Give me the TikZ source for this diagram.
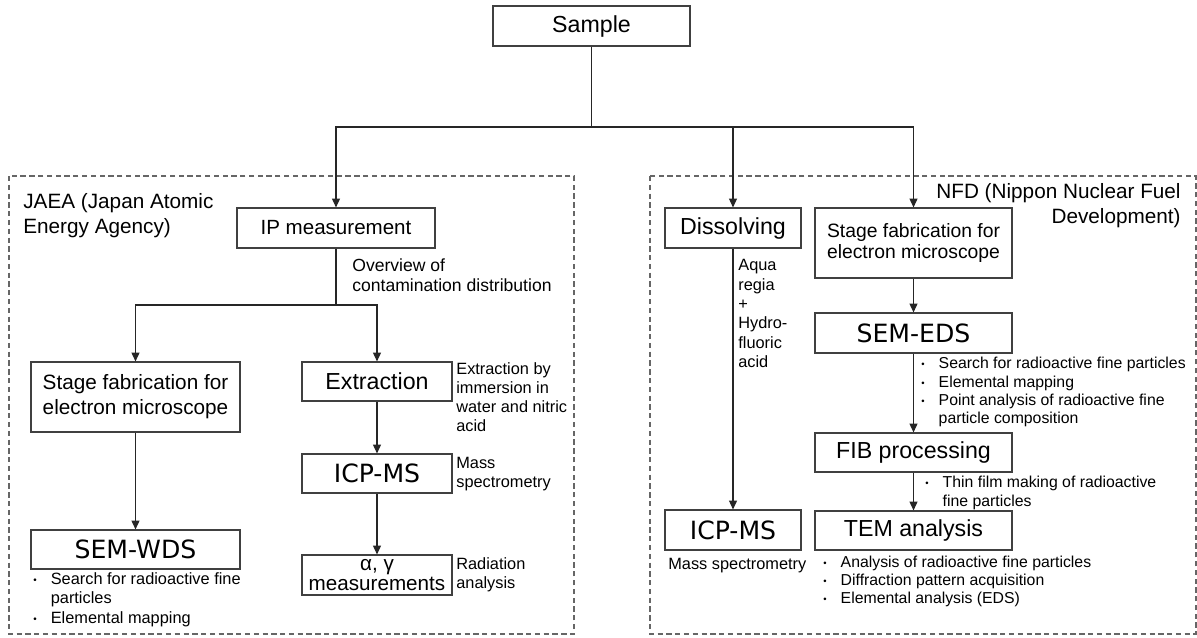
\documentclass[tikz,border=0pt]{standalone}
\usepackage{fontspec}
\setmainfont{Liberation Sans}
\newfontfamily\wideface{DejaVu Sans}
\usetikzlibrary{arrows.meta}

\newcommand{\bul}{\raisebox{0.12ex}{\scalebox{0.6}{\textbullet}}}

\begin{document}
\begin{tikzpicture}[x=0.02cm, y=-0.02cm, >={Triangle[length=5pt,width=4.5pt]},
  box/.style={draw=black!75, line width=0.65pt, inner sep=0pt, minimum height=0.8cm, align=center},
  big/.style={font=\fontsize{13.2}{15}\selectfont},
  wide/.style={font=\wideface\fontsize{14.3}{16}\selectfont},
  note/.style={anchor=west, align=left, inner sep=0pt, font=\fontsize{9.3}{11}\selectfont},
  bullets/.style={anchor=west, inner sep=0pt, font=\fontsize{9}{10.4}\selectfont},
  line/.style={draw=black!85, line width=0.7pt},
  group/.style={draw=black!60, line width=0.6pt, dash pattern=on 3pt off 2pt}]
\useasboundingbox (0,0) rectangle (1197,637);

\draw[group] (9,176) rectangle (574,634);
\draw[group] (650,176) rectangle (1196,634);

\node[box, big, minimum width=3.94cm] (sample) at (591.5,26) {Sample};

% JAEA
\node[anchor=west, align=left, inner sep=0pt, font=\fontsize{11.8}{14.2}\selectfont] (jaea) at (23,215.5) {JAEA (Japan Atomic\\Energy Agency)};
\node[box, minimum width=3.96cm, font=\fontsize{11.7}{14}\selectfont] (ip) at (336,228) {IP measurement};
\node[box, minimum width=4.18cm, minimum height=1.4cm, font=\fontsize{11.8}{14.2}\selectfont] (stageL) at (135.5,397) {Stage fabrication for\\electron microscope};
\node[box, big, minimum width=3cm, minimum height=0.78cm] (extr) at (377,381.5) {Extraction};
\node[box, wide, minimum width=3cm, minimum height=0.78cm] (icpL) at (377,473.5) {ICP-MS};
\node[box, minimum width=3cm, font=\fontsize{11.75}{11}\selectfont] (ag) at (377,575) {α, γ\\measurements};
\node[box, wide, minimum width=4.18cm, minimum height=0.78cm] (semW) at (135.5,549.5) {SEM-WDS};

\node[note, font=\fontsize{10}{11.3}\selectfont] (ipnote) at (352,275) {Overview of\\contamination distribution};
\node[note, font=\fontsize{9.3}{10.8}\selectfont] (extrnote) at (456,397.5) {Extraction by\\immersion in\\water and nitric\\acid};
\node[note] (icpLnote) at (456,474) {Mass\\spectrometry};
\node[note] (agnote) at (456,574.5) {Radiation\\analysis};
\node[bullets, font=\fontsize{9.3}{11.3}\selectfont] (semWnote) at (33,600) {\begin{tabular}{@{}c@{\hspace{8pt}}l@{}}
  \bul & Search for radioactive fine\\
       & particles\\
  \bul & Elemental mapping
\end{tabular}};

% NFD
\node[anchor=east, align=right, inner sep=0pt, font=\fontsize{11.8}{14.2}\selectfont] (nfd) at (1181,205.5) {NFD (Nippon Nuclear Fuel\\Development)};
\node[box, big, minimum width=2.72cm] (dis) at (733,228) {Dissolving};
\node[box, wide, minimum width=2.72cm] (icpR) at (733,530) {ICP-MS};
\node[box, minimum width=3.94cm, minimum height=1.4cm, font=\fontsize{11}{12.5}\selectfont] (stageN) at (913.5,243) {Stage fabrication for\\electron microscope};
\node[box, wide, minimum width=3.94cm] (semE) at (913.5,333) {SEM-EDS};
\node[box, big, minimum width=3.94cm, minimum height=0.78cm] (fib) at (913.5,452.5) {FIB processing};
\node[box, big, minimum width=3.94cm, minimum height=0.78cm] (tem) at (913.5,530.5) {TEM analysis};

\node[note] (disnote) at (738,313.5) {Aqua\\regia\\+\\Hydro-\\fluoric\\acid};
\node[note] (icpRnote) at (668,566) {Mass spectrometry};
\node[bullets] (semEnote) at (921,392.5) {\begin{tabular}{@{}c@{\hspace{8pt}}l@{}}
  \bul & Search for radioactive fine particles\\
  \bul & Elemental mapping\\
  \bul & Point analysis of radioactive fine\\
       & particle composition
\end{tabular}};
\node[bullets, font=\fontsize{9}{10.8}\selectfont] (fibnote) at (925,493.5) {\begin{tabular}{@{}c@{\hspace{8pt}}l@{}}
  \bul & Thin film making of radioactive\\
       & fine particles
\end{tabular}};
\node[bullets] (temnote) at (823,582) {\begin{tabular}{@{}c@{\hspace{8pt}}l@{}}
  \bul & Analysis of radioactive fine particles\\
  \bul & Diffraction pattern acquisition\\
  \bul & Elemental analysis (EDS)
\end{tabular}};

\coordinate (split) at (591.5,127);
\coordinate (ipsplit) at (336,305);

\draw[line] (sample) -- (split);
\draw[line,->] (split) -| (ip);
\draw[line,->] (split) -| (dis);
\draw[line,->] (split) -| (stageN);

\draw[line] (ip) -- (ipsplit);
\draw[line,->] (ipsplit) -| (stageL);
\draw[line,->] (ipsplit) -| (extr);
\draw[line,->] (extr) -- (icpL);
\draw[line,->] (icpL) -- (ag);
\draw[line,->] (stageL) -- (semW);

\draw[line,->] (dis) -- (icpR);
\draw[line,->] (stageN) -- (semE);
\draw[line,->] (semE) -- (fib);
\draw[line,->] (fib) -- (tem);
\end{tikzpicture}
\end{document}
